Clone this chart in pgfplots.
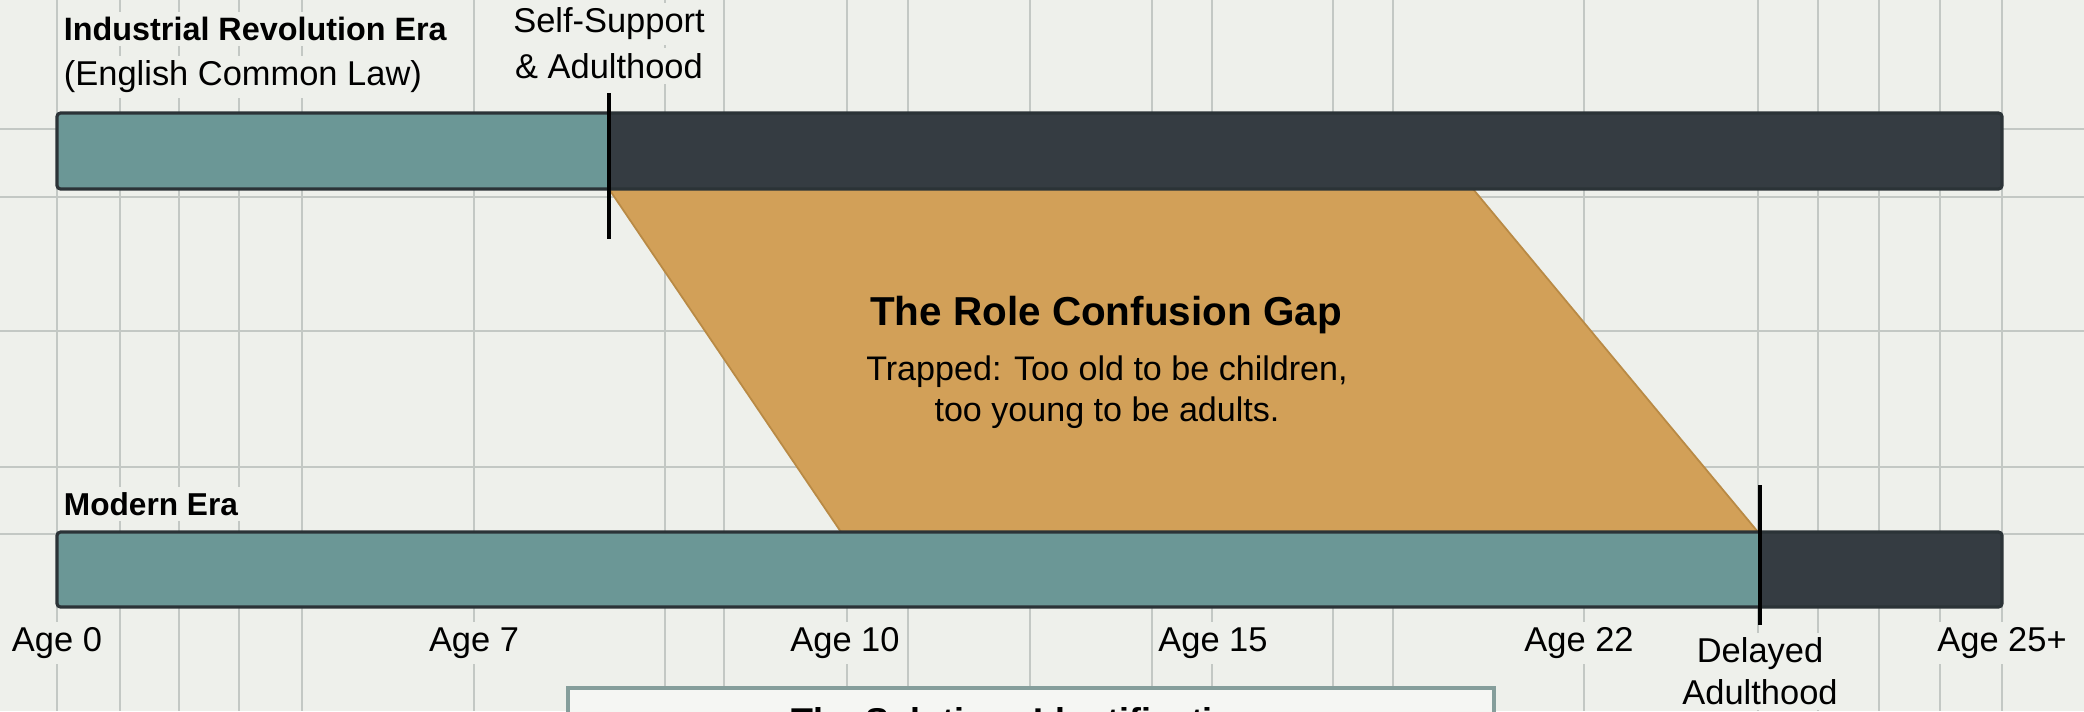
\documentclass[border=0pt]{standalone}
\usepackage{pgfplots}
\pgfplotsset{compat=1.18}
\usepackage{fontspec}
\setmainfont{Liberation Sans}
\definecolor{bgcol}{HTML}{EEF0EB}
\definecolor{gridcol}{HTML}{C3C8C4}
\definecolor{tealbar}{HTML}{6B9796}
\definecolor{darkbar}{HTML}{353C42}
\definecolor{barline}{HTML}{2B3337}
\definecolor{gold}{HTML}{D2A058}
\definecolor{goldedge}{HTML}{B98A45}
\definecolor{boxline}{HTML}{859E9B}
\definecolor{boxfill}{HTML}{F5F6F3}
\begin{document}
\begin{tikzpicture}
\begin{axis}[
  scale only axis, width=20.84cm, height=7.11cm,
  xmin=0, xmax=2084, ymin=0, ymax=711, y dir=reverse,
  axis background/.style={fill=bgcol},
  axis line style={draw=none},
  major tick length=0pt,
  xtick={57,120,179,239,302,474,665,724,847,908,1030,1152,1212,1333,1393,1584,1758,1818,1879,1940,2002},
  ytick={129,197,331,467,534},
  xticklabels={}, yticklabels={},
  grid=major, grid style={gridcol, line width=0.45pt},
  clip=false,
]
% gap parallelogram
\addplot[fill=gold, draw=goldedge, line width=0.5pt] coordinates {(609,189) (1473,189) (1758,532) (841,532)} -- cycle;
% industrial era bar
\addplot[fill=tealbar, draw=none] coordinates {(57,113) (609,113) (609,189) (57,189)} -- cycle;
\addplot[fill=darkbar, draw=none] coordinates {(609,113) (2002,113) (2002,189) (609,189)} -- cycle;
\addplot[draw=barline, line width=0.9pt, rounded corners=1pt] coordinates {(57,113) (2002,113) (2002,189) (57,189)} -- cycle;
% modern era bar
\addplot[fill=tealbar, draw=none] coordinates {(57,532) (1760,532) (1760,607) (57,607)} -- cycle;
\addplot[fill=darkbar, draw=none] coordinates {(1760,532) (2002,532) (2002,607) (1760,607)} -- cycle;
\addplot[draw=barline, line width=0.9pt, rounded corners=1pt] coordinates {(57,532) (2002,532) (2002,607) (57,607)} -- cycle;
% markers
\addplot[black, line width=1.4pt] coordinates {(609,93) (609,239)};
\addplot[black, line width=1.4pt] coordinates {(1760,485) (1760,625)};
% bottom box (cut off at the lower edge, as in the reference)
\addplot[fill=boxfill, draw=boxline, line width=1.1pt] coordinates {(568,780) (568,688) (1494,688) (1494,780)} -- cycle;
\node[anchor=base, font=\bfseries\fontsize{10.2}{12}\selectfont] at (axis cs:1024,733) {The Solution: Identification};
% labels
\node[anchor=west, fill=bgcol, inner sep=1.5pt, font=\bfseries\fontsize{9.2}{11}\selectfont] at (axis cs:58,29) {Industrial Revolution Era};
\node[anchor=west, fill=bgcol, inner sep=1.5pt, font=\fontsize{9.8}{11}\selectfont] at (axis cs:58,77) {(English Common Law)};
\node[fill=bgcol, inner sep=1.5pt, font=\fontsize{9.8}{11}\selectfont] at (axis cs:609,24) {Self-Support};
\node[fill=bgcol, inner sep=1.5pt, font=\fontsize{9.8}{11}\selectfont] at (axis cs:609,66) {\& Adulthood};
\node[anchor=west, fill=bgcol, inner sep=1.5pt, font=\bfseries\fontsize{9}{11}\selectfont] at (axis cs:58,504) {Modern Era};
\node[font=\bfseries\fontsize{11.5}{13}\selectfont] at (axis cs:1106,315) {The Role Confusion Gap};
\node[font=\fontsize{9.7}{11}\selectfont] at (axis cs:1107,372) {Trapped: Too old to be children,};
\node[font=\fontsize{9.7}{11}\selectfont] at (axis cs:1107,413) {too young to be adults.};
\foreach \xx/\lab in {57/Age 0, 474/Age 7, 845/Age 10, 1213/Age 15, 1579/Age 22, 2002/Age 25+}{
  \edef\tmp{\noexpand\node[fill=bgcol, inner sep=1.5pt, font=\noexpand\fontsize{9.8}{11}\noexpand\selectfont] at (axis cs:\xx,643) {\lab};}
  \tmp
}
\node[fill=bgcol, inner sep=1.5pt, font=\fontsize{9.8}{11}\selectfont] at (axis cs:1760,654) {Delayed};
\node[fill=bgcol, inner sep=1.5pt, font=\fontsize{9.8}{11}\selectfont] at (axis cs:1760,692) {Adulthood};
\end{axis}
\pgfresetboundingbox
\path[use as bounding box] (current axis.south west) rectangle (current axis.north east);
\end{tikzpicture}
\end{document}
